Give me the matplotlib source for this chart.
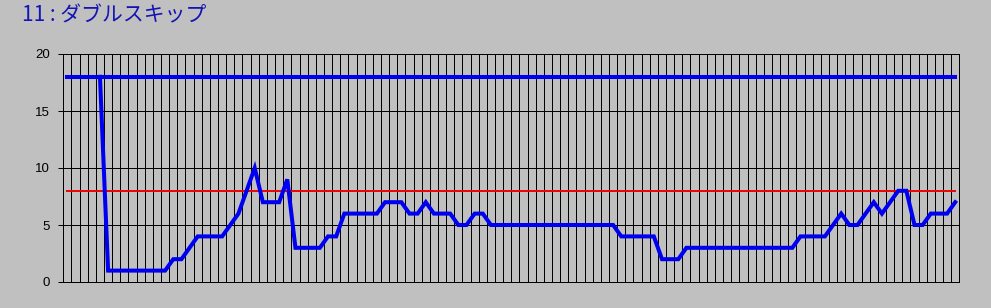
import numpy as np
import matplotlib
matplotlib.use('Agg')
import matplotlib.pyplot as plt

plt.rcParams['font.family'] = ['Noto Sans CJK JP', 'DejaVu Sans']

# データ (110 区間, 先頭 4 つは値なし)
title = '11 : ダブルスキップ'
n_slots = 110
values = ([np.nan] * 4 + [18] + [1] * 8 + [2, 2, 3] + [4] * 4 + [5, 6, 8, 10]
          + [7] * 3 + [9] + [3] * 4 + [4, 4] + [6] * 5 + [7] * 3 + [6, 6, 7]
          + [6] * 3 + [5, 5, 6, 6] + [5] * 16 + [4] * 5 + [2] * 3 + [3] * 14
          + [4] * 4 + [5, 6, 5, 5, 6, 7, 6, 7, 8, 8, 5, 5, 6, 6, 6, 7])
upper_level = 18
lower_level = 8
y_ticks = [0, 5, 10, 15, 20]

x = np.arange(n_slots)
y = np.array(values, dtype=float)

bg = '#C0C0C0'
fig = plt.figure(figsize=(9.91, 3.08), dpi=100, facecolor=bg)
ax = fig.add_axes([63.3 / 991, 26 / 308, 896 / 991, 228 / 308], facecolor=bg)

# 縦の区切り線
ax.set_xticks(np.arange(-0.5, n_slots, 1.0))
ax.set_xticklabels([])
ax.tick_params(axis='x', length=0)
ax.set_yticks(y_ticks)
ax.tick_params(axis='y', length=3.6, width=0.72, colors='black', labelsize=9.5, pad=6)
for lbl in ax.get_yticklabels():
    lbl.set_family('Liberation Sans')
ax.grid(True, color='black', linewidth=0.72)
ax.set_axisbelow(True)

ax.set_xlim(-0.5, n_slots - 0.5)
ax.set_ylim(0, 20)
for s in ax.spines.values():
    s.set_color('black')
    s.set_linewidth(0.72)

# 基準線
ax.plot(x, np.full(n_slots, upper_level), color='#0000F0', linewidth=2.9,
        solid_capstyle='projecting', zorder=3)
ax.plot(x, np.full(n_slots, lower_level), color='#F00000', linewidth=1.4, zorder=3)

# 推移
ax.plot(x, y, color='#0000F0', linewidth=2.9, solid_joinstyle='miter', zorder=4)

fig.text(22 / 991, 1 - 4 / 308, title, color='#1414B4', fontsize=15, va='top', ha='left')

fig.savefig('out.png', dpi=100, facecolor=bg)
